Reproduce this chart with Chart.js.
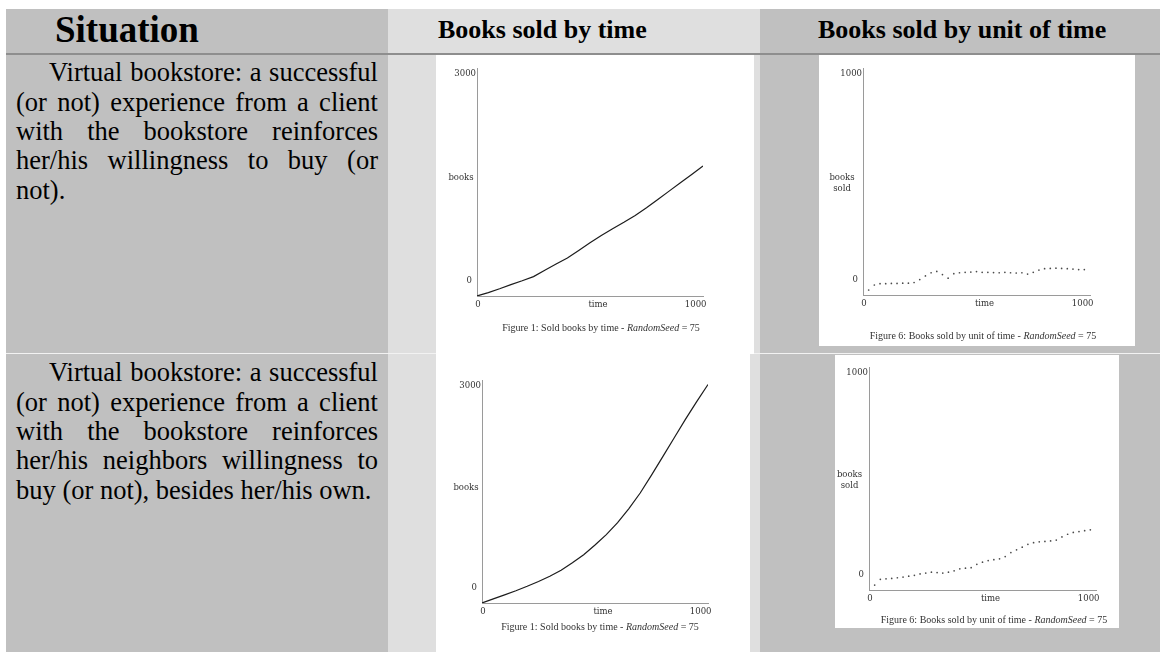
<!DOCTYPE html>
<html>
<head>
<meta charset="utf-8">
<title>Books sold</title>
<script src="https://cdn.jsdelivr.net/npm/chart.js@4.4.1/dist/chart.umd.min.js"></script>
<style>
  html, body { margin: 0; padding: 0; background: #fff; }
  #page { position: relative; width: 1160px; height: 652px; overflow: hidden; background: #fff; }
  .bg { position: absolute; }
  .hd { position: absolute; font-family: "Liberation Serif", "Times New Roman", serif; font-weight: bold; color: #000; white-space: nowrap; }
  .ln { position: absolute; left: 16px; width: 362px; height: 29.3px; font-family: "Liberation Serif", "Times New Roman", serif;
        font-size: 26.5px; line-height: 29.3px; color: #000; text-align: justify; text-align-last: justify; }
  .ln.first { padding-left: 33px; width: 329px; }
  .ln.last { text-align-last: left; }
  .panel { position: absolute; background: #fff; }
  .panel canvas { position: absolute; left: 0; top: 0; }
  .cap { position: absolute; font-family: "Liberation Serif", "Times New Roman", serif; font-size: 10px; color: #333;
         white-space: nowrap; transform: translate(-50%, -50%); }
  .cap i { font-style: italic; }
</style>
</head>
<body>
<div id="page">
  <!-- header row -->
  <div class="bg" style="left:6px;top:9px;width:382px;height:44px;background:#c0c0c0"></div>
  <div class="bg" style="left:388px;top:9px;width:372px;height:44px;background:#dfdfdf"></div>
  <div class="bg" style="left:760px;top:9px;width:400px;height:44px;background:#c0c0c0"></div>
  <div class="bg" style="left:6px;top:53px;width:1154px;height:2px;background:#8e8e8e"></div>

  <!-- body rows -->
  <div class="bg" style="left:6px;top:55px;width:382px;height:597px;background:#c0c0c0"></div>
  <div class="bg" style="left:388px;top:55px;width:372px;height:597px;background:#dfdfdf"></div>
  <div class="bg" style="left:760px;top:55px;width:400px;height:597px;background:#c0c0c0"></div>
  <div class="bg" style="left:6px;top:353px;width:1154px;height:1px;background:#f2f2f2"></div>

  <div class="hd" style="left:55px;top:11px;font-size:37px;line-height:37px">Situation</div>
  <div class="hd" style="left:438px;top:17px;font-size:26px;line-height:26px">Books sold by time</div>
  <div class="hd" style="left:818px;top:17px;font-size:26px;line-height:26px">Books sold by unit of time</div>

  <div class="ln first" style="top:58.4px">Virtual bookstore: a successful</div>
  <div class="ln" style="top:87.7px">(or not) experience from a client</div>
  <div class="ln" style="top:117px">with the bookstore reinforces</div>
  <div class="ln" style="top:146.3px">her/his willingness to buy (or</div>
  <div class="ln last" style="top:175.6px">not).</div>

  <div class="ln first" style="top:358.4px">Virtual bookstore: a successful</div>
  <div class="ln" style="top:387.7px">(or not) experience from a client</div>
  <div class="ln" style="top:417px">with the bookstore reinforces</div>
  <div class="ln" style="top:446.3px">her/his neighbors willingness to</div>
  <div class="ln last" style="top:475.6px">buy (or not), besides her/his own.</div>

  <div class="panel" style="left:436px;top:55px;width:318px;height:299px"><canvas id="cTotalOwn" width="318" height="299"></canvas></div>
  <div class="panel" style="left:436px;top:354px;width:314px;height:298px"><canvas id="cTotalNb" width="314" height="298"></canvas></div>
  <div class="panel" style="left:819px;top:55px;width:316px;height:291px"><canvas id="cRateOwn" width="316" height="291"></canvas></div>
  <div class="panel" style="left:835px;top:355px;width:284px;height:273px"><canvas id="cRateNb" width="284" height="273"></canvas></div>

  <div class="cap" style="left:601px;top:327px">Figure 1: Sold books by time - <i>RandomSeed</i> = 75</div>
  <div class="cap" style="left:600px;top:626px">Figure 1: Sold books by time - <i>RandomSeed</i> = 75</div>
  <div class="cap" style="left:983px;top:335px">Figure 6: Books sold by unit of time - <i>RandomSeed</i> = 75</div>
  <div class="cap" style="left:994px;top:619px">Figure 6: Books sold by unit of time - <i>RandomSeed</i> = 75</div>
</div>

<script>
// Axis ranges / tick labels
const X_TICKS = [0, 1000];
const Y_TICKS_TOTAL = [0, 3000];
const Y_TICKS_RATE = [0, 1000];
const X_TITLE = 'time';
const Y_TITLE_TOTAL = ['books'];
const Y_TITLE_RATE = ['books', 'sold'];

// Cumulative books sold, sampled along the run
const TIME_TOTAL = [0, 50, 100, 150, 200, 250, 300, 350, 400, 450, 500,
                    550, 600, 650, 700, 750, 800, 850, 900, 950, 1000];
// own experience only
const BOOKS_OWN = [0, 45, 95, 150, 200, 255, 340, 420, 500, 600, 700,
                   795, 885, 970, 1060, 1160, 1270, 1380, 1490, 1600, 1710];
// own experience plus neighbours
const BOOKS_NEIGHBORS = [0, 55, 110, 165, 225, 290, 360, 440, 540, 650, 780,
                         920, 1080, 1270, 1480, 1720, 1970, 2220, 2470, 2710, 2940];

// Books sold per unit of time
const TIME_RATE = [25, 50, 75, 100, 125, 150, 175, 200, 225, 250, 275, 300, 325,
                   350, 375, 400, 425, 450, 475, 500, 525, 550, 575, 600, 625, 650,
                   675, 700, 725, 750, 775, 800, 825, 850, 875, 900, 925, 950, 975];
const RATE_OWN = [22, 44, 50, 50, 51, 51, 52, 52, 55, 68, 84, 98, 104,
                  90, 74, 94, 98, 100, 101, 103, 100, 100, 99, 98, 100, 98,
                  97, 98, 92, 100, 110, 116, 117, 118, 117, 116, 114, 112, 112];
const RATE_NEIGHBORS = [22, 48, 50, 52, 55, 58, 62, 66, 72, 76, 80, 78, 76,
                        80, 86, 95, 98, 100, 115, 125, 132, 136, 140, 150, 168, 180,
                        192, 205, 212, 216, 218, 220, 224, 238, 250, 258, 262, 266, 270];

function toPoints(xs, ys) {
  return xs.map((x, i) => ({ x: x, y: ys[i] }));
}

// Plot labels placed at the ends of each axis, plot-window style
const axisText = {
  id: 'axisText',
  afterDraw(chart, args, o) {
    const { ctx } = chart;
    const xs = chart.scales.x, ys = chart.scales.y;
    const left = xs.left, right = xs.right, top = ys.top, bottom = ys.bottom;
    ctx.save();
    ctx.fillStyle = '#333';
    ctx.font = '8.5px "DejaVu Serif", serif';
    ctx.textBaseline = 'middle';

    ctx.textAlign = 'right';
    ctx.fillText(String(o.yTicks[1]), ys.left - 1, ys.getPixelForValue(o.yTicks[1]) + 6);
    ctx.fillText(String(o.yTicks[0]), ys.left - 5, ys.getPixelForValue(o.yTicks[0]) - 15);

    ctx.textAlign = 'center';
    const mid = (top + bottom) / 2;
    if (o.yTitle.length === 1) {
      ctx.fillText(o.yTitle[0], left - 16, mid - 4);
    } else {
      ctx.fillText(o.yTitle[0], left - o.titleGap, mid - 4);
      ctx.fillText(o.yTitle[1], left - o.titleGap, mid + 7);
    }

    const yx = bottom + 9;
    ctx.fillText(String(o.xTicks[0]), xs.getPixelForValue(o.xTicks[0]) + 1, yx);
    ctx.fillText(X_TITLE, (left + right) / 2 + 8, yx);
    ctx.textAlign = 'right';
    ctx.fillText(String(o.xTicks[1]), xs.getPixelForValue(o.xTicks[1]) + 3.5, yx);
    ctx.restore();
  }
};

function makeChart(id, xs, ys, yTicks, yTitle, pad, asDots, titleGap) {
  const ds = asDots
    ? { data: toPoints(xs, ys), showLine: false, pointRadius: 0.85, pointBorderWidth: 0,
        pointBackgroundColor: '#4a4a4a', pointHoverRadius: 0 }
    : { data: toPoints(xs, ys), showLine: true, borderColor: '#1c1c1c', borderWidth: 1.2,
        pointRadius: 0, tension: 0, fill: false };
  const hideScale = (s) => { if (s.isHorizontal()) { s.height = 0; } else { s.width = 0; } };
  return new Chart(document.getElementById(id), {
    type: 'scatter',
    data: { datasets: [ds] },
    options: {
      responsive: false,
      devicePixelRatio: 1,
      animation: false,
      events: [],
      layout: { padding: pad },
      plugins: {
        legend: { display: false },
        tooltip: { enabled: false },
        axisText: { xTicks: X_TICKS, yTicks: yTicks, yTitle: yTitle, titleGap: titleGap || 22 }
      },
      scales: {
        x: {
          type: 'linear', min: X_TICKS[0], max: X_TICKS[1],
          grid: { display: false, drawTicks: false },
          border: { display: true, color: '#9a9a9a', width: 1 },
          ticks: { display: false },
          afterFit: hideScale
        },
        y: {
          type: 'linear', min: yTicks[0], max: yTicks[1],
          grid: { display: false, drawTicks: false },
          border: { display: true, color: '#9a9a9a', width: 1 },
          ticks: { display: false },
          afterFit: hideScale
        }
      }
    },
    plugins: [axisText]
  });
}

makeChart('cTotalOwn', TIME_TOTAL, BOOKS_OWN, Y_TICKS_TOTAL, Y_TITLE_TOTAL,
          { left: 41, top: 13, right: 51, bottom: 58 }, false);
makeChart('cTotalNb', TIME_TOTAL, BOOKS_NEIGHBORS, Y_TICKS_TOTAL, Y_TITLE_TOTAL,
          { left: 46, top: 26, right: 42, bottom: 49 }, false);
makeChart('cRateOwn', TIME_RATE, RATE_OWN, Y_TICKS_RATE, Y_TITLE_RATE,
          { left: 44, top: 13, right: 45, bottom: 51 }, true, 21);
makeChart('cRateNb', TIME_RATE, RATE_NEIGHBORS, Y_TICKS_RATE, Y_TITLE_RATE,
          { left: 34, top: 12, right: 23, bottom: 38 }, true, 19.5);
</script>
</body>
</html>
